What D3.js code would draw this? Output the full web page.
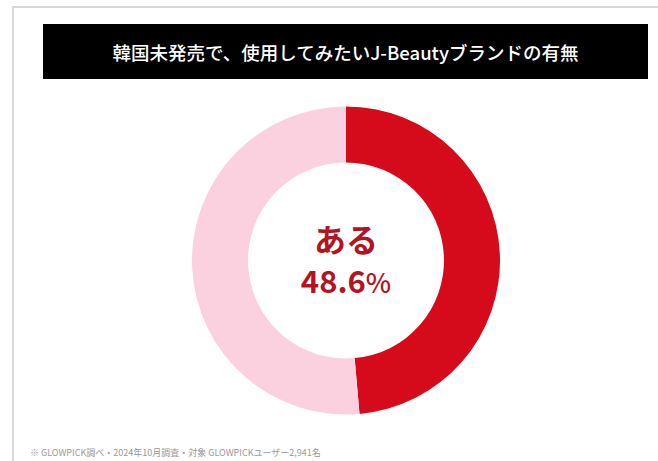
<!DOCTYPE html>
<html><head><meta charset="utf-8">
<script src="https://cdn.jsdelivr.net/npm/d3@7"></script>
<style>html,body{margin:0;padding:0;background:#fff;}svg{display:block;}</style>
</head><body>
<svg id="c" width="658" height="461"></svg>
<script>
const title = "韓国未発売で、使用してみたいJ-Beautyブランドの有無";
const categories = ["ある", "ない"];
const values = [48.6, 51.4];
const colors = ["#d50b1b", "#fbd1e0"];
const footnote = "※ GLOWPICK調べ・2024年10月調査・対象 GLOWPICKユーザー2,941名";

const svg = d3.select("#c");
const font = "'Noto Sans CJK JP','Noto Sans',sans-serif";

// card border
svg.append("path").attr("d","M13,461 V7 H658").attr("fill","none").attr("stroke","#d8d8d8").attr("stroke-width",2);

// title bar
svg.append("rect").attr("x",43).attr("y",24).attr("width",605).attr("height",55).attr("fill","#000");
svg.append("text").attr("x",345.5).attr("y",51.5).attr("text-anchor","middle").attr("dominant-baseline","central")
  .attr("fill","#fff").attr("font-family",font).attr("font-size",18.5).attr("font-weight",500).text(title);

// donut
const cx = 346, cy = 260.5, rOuter = 154, rInner = 98;
const pie = d3.pie().sort(null).value(d => d)(values);
const arc = d3.arc().innerRadius(rInner).outerRadius(rOuter);
const g = svg.append("g").attr("transform",`translate(${cx},${cy})`);
g.selectAll("path").data(pie).join("path").attr("d",arc).attr("fill",(d,i)=>colors[i]);

// center labels
g.append("text").attr("x",0).attr("y",-9).attr("text-anchor","middle")
  .attr("fill","#b2151f").attr("font-family",font).attr("font-size",32).attr("font-weight",700).text(categories[0]);
const pct = g.append("text").attr("x",0).attr("y",32.5).attr("text-anchor","middle")
  .attr("fill","#b2151f").attr("font-family",font).attr("font-weight",700);
pct.append("tspan").attr("font-size",31).text(d3.format(".1f")(values[0]));
pct.append("tspan").attr("font-size",27).attr("font-weight",500).text("%");

// footnote
svg.append("text").attr("x",30).attr("y",455.5)
  .attr("fill","#999").attr("font-family",font).attr("font-size",9).text(footnote);
</script>
</body></html>
